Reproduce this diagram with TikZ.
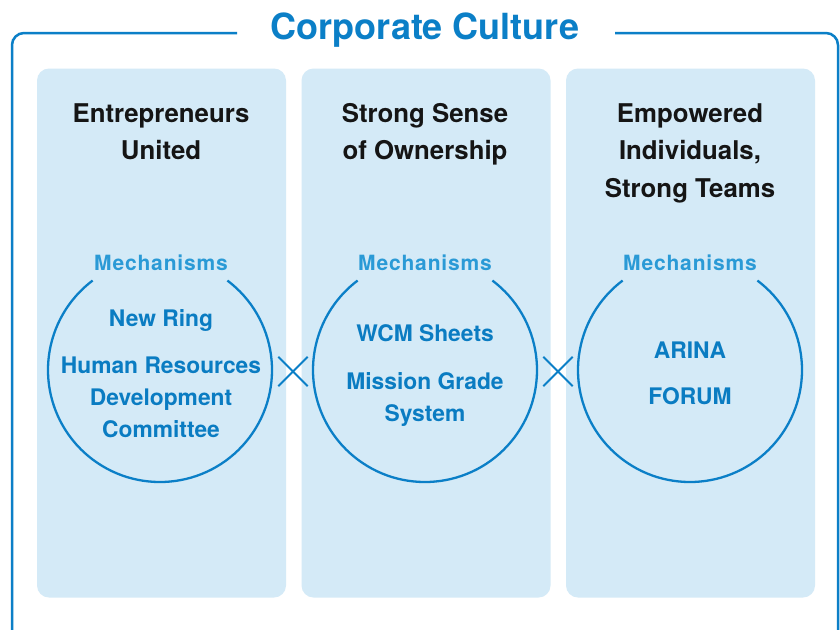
\documentclass[tikz,border=0pt]{standalone}
\usepackage{fontspec}
\setmainfont{TeX Gyre Heros}
\newfontfamily\mechfont[LetterSpace=4]{TeX Gyre Heros}
\definecolor{frameblue}{HTML}{0B7FC7}
\definecolor{panelfill}{HTML}{D4EAF7}
\definecolor{mechblue}{HTML}{2A9AD6}
\definecolor{innerblue}{HTML}{0A7CC2}
\definecolor{headblack}{HTML}{151515}
\begin{document}
\begin{tikzpicture}[x=1pt,y=-1pt,
  panel/.style={fill=panelfill, draw=none, rounded corners=12pt, minimum width=249pt, minimum height=529pt, inner sep=0pt},
  headtxt/.style={anchor=base, text=headblack, font=\bfseries\fontsize{25.8}{30}\selectfont, inner sep=0pt},
  mechtxt/.style={anchor=base, text=mechblue, font=\mechfont\bfseries\fontsize{21}{25}\selectfont, inner sep=0pt},
  innertxt/.style={anchor=base, text=innerblue, font=\bfseries\fontsize{22.8}{27}\selectfont, inner sep=0pt},
  ringnode/.style={circle, minimum size=224pt, inner sep=0pt, draw=none},
  ring/.style={draw=frameblue, line width=2.3pt},
  crossbox/.style={minimum size=29pt, inner sep=0pt, draw=none},
  cross/.style={draw=frameblue, line width=2pt}
]
\useasboundingbox (0,0) rectangle (840,629);
\fill[white] (0,0) rectangle (840,629);
% outer frame
\draw[frameblue, line width=2.5pt, rounded corners=12pt]
  (237,33) -- (12,33) -- (12,650) -- (838,650) -- (838,33) -- (615,33);
\node[anchor=base, text=frameblue, font=\bfseries\fontsize{36}{40}\selectfont, inner sep=0pt] (title) at (425,39) {Corporate Culture};
% panels
\node[panel] (p1) at (161.5,333) {};
\node[panel] (p2) at (426,333) {};
\node[panel] (p3) at (690.5,333) {};
% headers
\node[headtxt] (h1a) at (161,122) {Entrepreneurs};
\node[headtxt] (h1b) at (161,159) {United};
\node[headtxt] (h2a) at (425,122) {Strong Sense};
\node[headtxt] (h2b) at (425,159) {of Ownership};
\node[headtxt] (h3a) at (690,122) {Empowered};
\node[headtxt] (h3b) at (690,159) {Individuals,};
\node[headtxt] (h3c) at (690,197) {Strong Teams};
% mechanisms labels
\node[mechtxt] (m1) at (161,270) {Mechanisms};
\node[mechtxt] (m2) at (425,270) {Mechanisms};
\node[mechtxt] (m3) at (690,270) {Mechanisms};
% rings
\node[ringnode] (c1) at (160,370) {};
\node[ringnode] (c2) at (425,370) {};
\node[ringnode] (c3) at (690,370) {};
\draw[ring] (c1.center) ++(-53:112) arc[start angle=-53, end angle=233, radius=112];
\draw[ring] (c2.center) ++(-53:112) arc[start angle=-53, end angle=233, radius=112];
\draw[ring] (c3.center) ++(-53:112) arc[start angle=-53, end angle=233, radius=112];
% inner texts
\node[innertxt] (t1a) at (161,326) {New Ring};
\node[innertxt] (t1b) at (161,373) {Human Resources};
\node[innertxt] (t1c) at (161,405) {Development};
\node[innertxt] (t1d) at (161,437) {Committee};
\node[innertxt] (t2a) at (425,341) {WCM Sheets};
\node[innertxt] (t2b) at (425,389) {Mission Grade};
\node[innertxt] (t2c) at (425,421) {System};
\node[innertxt] (t3a) at (690,358) {ARINA};
\node[innertxt] (t3b) at (690,404) {FORUM};
% crosses
\node[crossbox] (x1) at (293,371.5) {};
\node[crossbox] (x2) at (558,371.5) {};
\draw[cross] (x1.north west) -- (x1.south east);
\draw[cross] (x1.north east) -- (x1.south west);
\draw[cross] (x2.north west) -- (x2.south east);
\draw[cross] (x2.north east) -- (x2.south west);
\end{tikzpicture}
\end{document}
